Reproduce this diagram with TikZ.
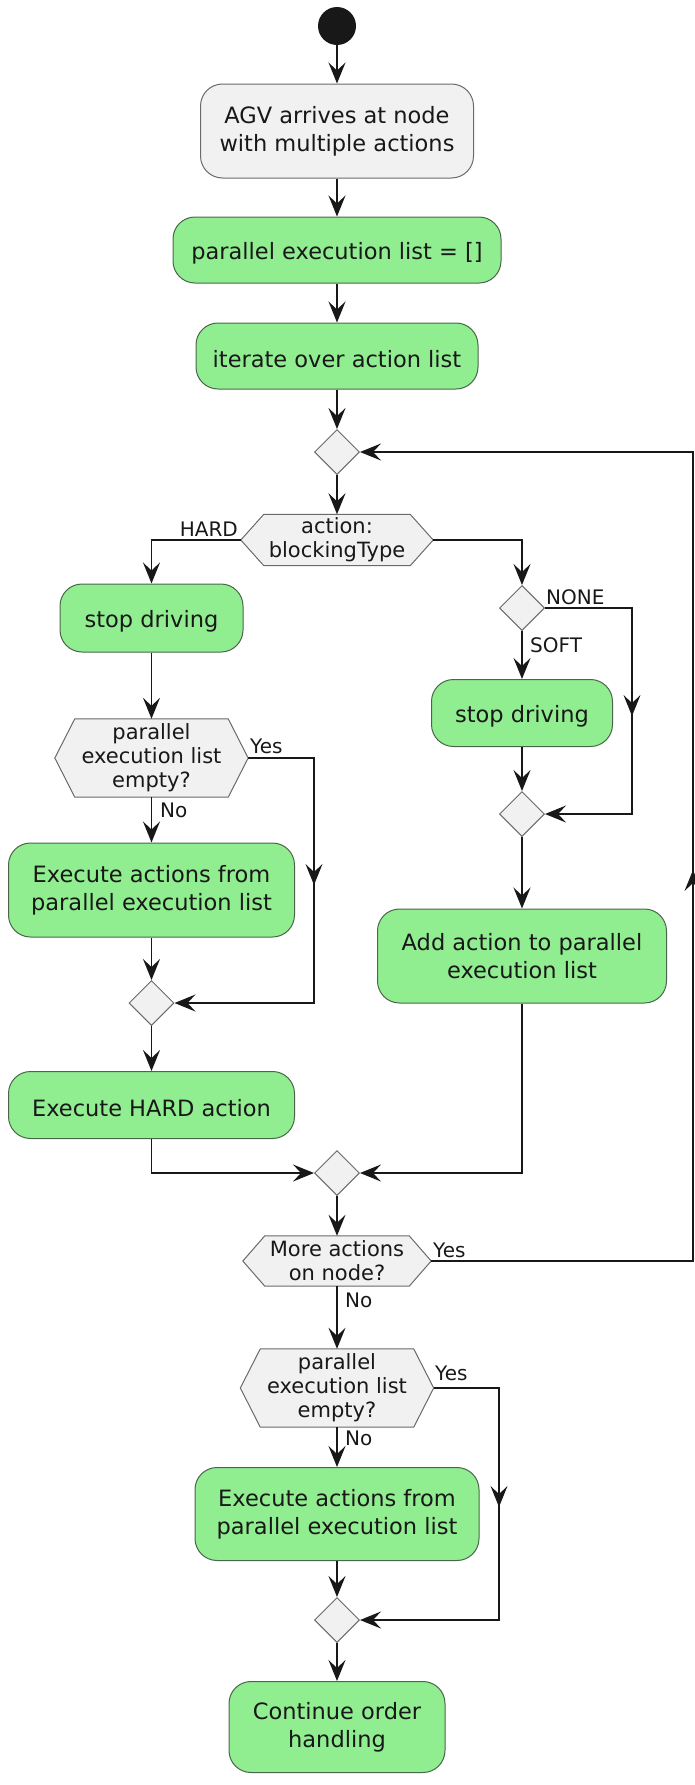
\documentclass[tikz,border=0pt]{standalone}
\usepackage{fontspec}
\setmainfont{DejaVu Sans}
\usetikzlibrary{arrows.meta,shapes.geometric,backgrounds}

\definecolor{actfill}{HTML}{90EE90}
\definecolor{actline}{HTML}{4A664A}
\definecolor{gfill}{HTML}{F1F1F1}
\definecolor{gline}{HTML}{6A6A6A}
\definecolor{ink}{HTML}{181818}

\tikzset{
  tip/.tip={Stealth[length=21pt,width=17pt,inset=8pt]},
  actbox/.style={rectangle, rounded corners=22pt, fill=actfill, draw=actline,
    line width=1pt, align=center, inner sep=0pt, text=ink,
    font=\fontsize{22.5}{28}\selectfont,
    execute at begin node={\rule{0pt}{23.5pt}}},
  greybox/.style={actbox, fill=gfill, draw=gline},
  merge/.style={diamond, aspect=1, minimum width=45pt, minimum height=45pt,
    inner sep=0pt, fill=gfill, draw=gline, line width=1pt},
  hexnode/.style={rectangle, inner sep=0pt, align=center, text=ink,
    font=\fontsize{21}{24}\selectfont,
    execute at begin node={\rule{0pt}{20pt}}},
  hexshape/.style={fill=gfill, draw=gline, line width=1pt, line join=miter},
  flow/.style={draw=ink, line width=1.8pt, -tip},
  % arrow head sitting in the middle of a running line, pointing down
  midtip/.pic={\fill[ink] (0,0) -- (-8.5,-21) -- (0,-13) -- (8.5,-21) -- cycle;},
  lab/.style={font=\fontsize{20}{24}\selectfont, text=ink, inner sep=0pt},
}

\begin{document}
\begin{tikzpicture}[x=1pt,y=-1pt]
\useasboundingbox (0,0) rectangle (695,1785);

% main column
\node[circle, fill=ink, minimum size=38pt, inner sep=0pt] (start) at (337,26) {};
\node[greybox, minimum width=273pt, minimum height=94pt] (agv) at (337,131)
  {AGV arrives at node\\with multiple actions};
\node[actbox, minimum width=328pt, minimum height=66pt] (plist) at (337,250)
  {parallel execution list = []};
\node[actbox, minimum width=282pt, minimum height=66pt] (iter) at (337,356)
  {iterate over action list};
\node[merge] (d1) at (337,452) {};
\node[hexnode, minimum width=192pt, minimum height=51pt] (bt) at (337,540)
  {action:\\blockingType};

% HARD branch
\node[actbox, minimum width=183pt, minimum height=68pt] (stop1) at (151.5,618)
  {stop driving};
\node[hexnode, minimum width=193pt, minimum height=78pt] (e1) at (151.5,758)
  {parallel\\execution list\\empty?};
\node[actbox, minimum width=286pt, minimum height=94pt] (exec1) at (151.5,890)
  {Execute actions from\\parallel execution list};
\node[merge] (d4) at (151.5,1003) {};
\node[actbox, minimum width=286pt, minimum height=67pt] (hard) at (151.5,1105)
  {Execute HARD action};

% SOFT / NONE branch
\node[merge] (d2) at (522,608) {};
\node[actbox, minimum width=181pt, minimum height=67pt] (stop2) at (522,713)
  {stop driving};
\node[merge] (d3) at (522,814) {};
\node[actbox, minimum width=289pt, minimum height=94pt] (add) at (522,956)
  {Add action to parallel\\execution list};

% loop end and final part
\node[merge] (d5) at (337,1173) {};
\node[hexnode, minimum width=188pt, minimum height=50pt] (ma) at (337,1261)
  {More actions\\on node?};
\node[hexnode, minimum width=193pt, minimum height=78pt] (e2) at (337,1388)
  {parallel\\execution list\\empty?};
\node[actbox, minimum width=284pt, minimum height=93pt] (exec2) at (337,1514)
  {Execute actions from\\parallel execution list};
\node[merge] (d6) at (337,1620) {};
\node[actbox, minimum width=216pt, minimum height=91pt] (cont) at (337,1727)
  {Continue order\\handling};

% hexagon outlines behind the decision texts
\begin{scope}[on background layer]
  \foreach \n/\i in {bt/23, e1/20, ma/22, e2/20}
    \draw[hexshape] ([xshift=\i pt]\n.north west) -- ([xshift=-\i pt]\n.north east)
      -- (\n.east) -- ([xshift=-\i pt]\n.south east) -- ([xshift=\i pt]\n.south west)
      -- (\n.west) -- cycle;
\end{scope}

% points on the side lines where an arrow head sits
\coordinate (yA) at (314,885);
\coordinate (nA) at (632,716);
\coordinate (yB) at (693,870);
\coordinate (yC) at (499,1507);

% connectors
\draw[flow] (start) -- (agv);
\draw[flow] (agv) -- (plist);
\draw[flow] (plist) -- (iter);
\draw[flow] (iter) -- (d1);
\draw[flow] (d1) -- (bt);
\draw[flow] (bt.west) -| (stop1.north);
\draw[flow] (bt.east) -| (d2.north);

\draw[flow] (stop1) -- (e1);
\draw[flow] (e1) -- (exec1);
\draw[flow] (e1.east) -| (yA) |- (d4.east);
\draw[flow] (exec1) -- (d4);
\draw[flow] (d4) -- (hard);
\draw[flow] (hard.south) |- (d5.west);

\draw[flow] (d2) -- (stop2);
\draw[flow] (d2.east) -| (nA) |- (d3.east);
\draw[flow] (stop2) -- (d3);
\draw[flow] (d3) -- (add);
\draw[flow] (add.south) |- (d5.east);

\draw[flow] (d5) -- (ma);
\draw[flow] (ma.east) -| (yB) |- (d1.east);
\draw[flow] (ma) -- (e2);
\draw[flow] (e2) -- (exec2);
\draw[flow] (e2.east) -| (yC) |- (d6.east);
\draw[flow] (exec2) -- (d6);
\draw[flow] (d6) -- (cont);

% arrow heads along the side lines
\pic at (yA) {midtip};
\pic at (nA) {midtip};
\pic[rotate=180] at (yB) {midtip};
\pic at (yC) {midtip};

% branch labels
\node[lab, anchor=base east] (lHard) at (238,536) {HARD};
\node[lab, anchor=base west] (lNone) at (546,604) {NONE};
\node[lab, anchor=base west] (lSoft) at (530,652) {SOFT};
\node[lab, anchor=base west] (lYes1) at (250,753) {Yes};
\node[lab, anchor=base west] (lNo1) at (160,817) {No};
\node[lab, anchor=base west] (lYes2) at (433,1257) {Yes};
\node[lab, anchor=base west] (lNo2) at (345,1307) {No};
\node[lab, anchor=base west] (lYes3) at (435,1380) {Yes};
\node[lab, anchor=base west] (lNo3) at (345,1445) {No};
\end{tikzpicture}
\end{document}
